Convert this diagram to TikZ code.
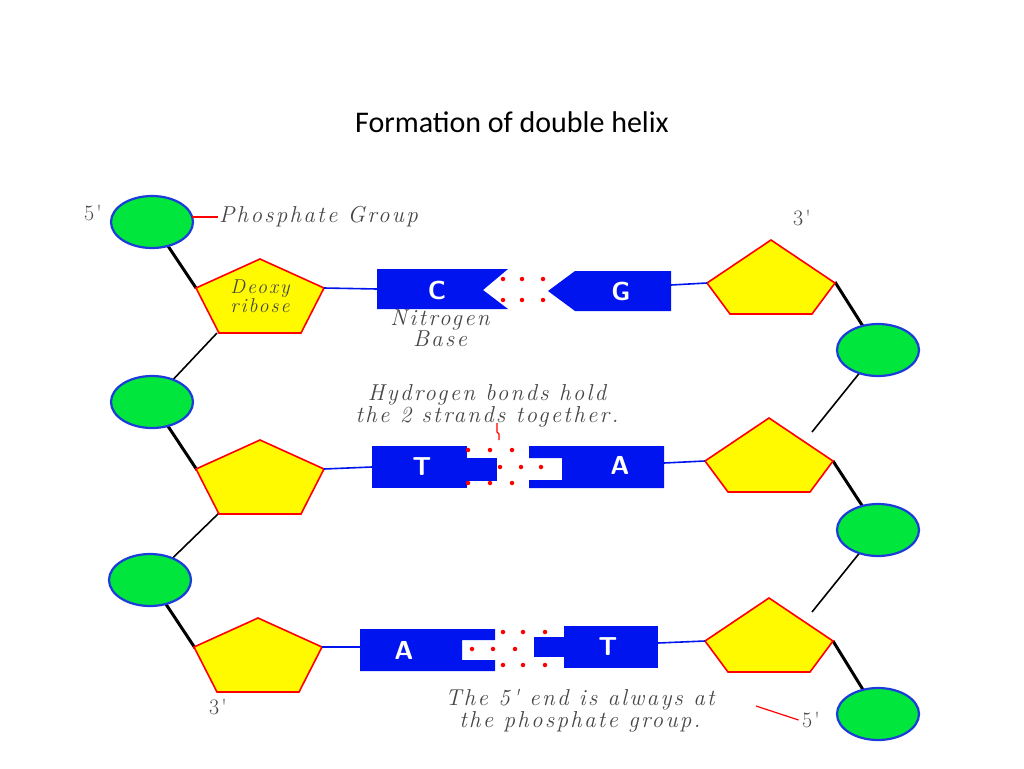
\documentclass[tikz,border=0pt]{standalone}
\usepackage{fontspec}
\setmainfont{Latin Modern Roman}
\newfontfamily\titlefont{Carlito}
\newfontfamily\handfont[LetterSpace=10]{Latin Modern Roman}
\usetikzlibrary{shapes.geometric}
\definecolor{pgreen}{RGB}{0,230,60}
\definecolor{pblue}{RGB}{30,60,220}
\definecolor{byel}{RGB}{255,250,0}
\definecolor{bblue}{RGB}{0,20,240}
\definecolor{hgray}{RGB}{70,70,70}
\tikzset{
 phos/.style={ellipse,draw=pblue,line width=2.2pt,fill=pgreen,minimum width=82,minimum height=52,inner sep=0},
 pentstyle/.style={draw=red,line width=1.6pt,fill=byel,line join=miter},
 thick bb/.style={line width=3pt,black},
 thin bb/.style={line width=1.6pt,black},
 link/.style={line width=1.6pt,bblue},
 basefill/.style={fill=bblue},
 lett/.style={text=white,font=\sffamily\bfseries\fontsize{26}{26}\selectfont},
 hand/.style={text=hgray,font=\handfont\itshape\fontsize{23}{17}\selectfont,align=center},
 dot/.style={circle,fill=red,inner sep=0,minimum size=4.5},
 redl/.style={red,line width=1.2pt},
}
\newcommand{\pentagonat}[4]{%
 \coordinate (#1-t) at (#2,#3-37);
 \coordinate (#1-r) at (#2+64,#3+#4);
 \coordinate (#1-br) at (#2+41,#3+37);
 \coordinate (#1-bl) at (#2-41,#3+37);
 \coordinate (#1-l) at (#2-64,#3+#4);
 \coordinate (#1) at (#2,#3);
 \filldraw[pentstyle] (#1-t) -- (#1-r) -- (#1-br) -- (#1-bl) -- (#1-l) -- cycle;}
\begin{document}
\begin{tikzpicture}[x=1pt,y=-1pt]
\useasboundingbox (0,0) rectangle (1024,768);
\node[font=\titlefont\fontsize{30}{30}\selectfont] (title) at (512,122) {Formation of double helix};
\coordinate (c1) at (152,222); \coordinate (c2) at (152,402); \coordinate (c3) at (150,580);
\coordinate (d1) at (878,350); \coordinate (d2) at (878,530); \coordinate (d3) at (878,714);
% backbone
\draw[thick bb] (c1) -- (196,288);
\draw[thin bb] (217,333) -- (c2);
\draw[thick bb] (c2) -- (197,470);
\draw[thin bb] (219,513) -- (c3);
\draw[thick bb] (c3) -- (195,648);
\draw[thick bb] (835,282) -- (d1);
\draw[thin bb] (d1) -- (812,432);
\draw[thick bb] (833,461) -- (d2);
\draw[thin bb] (d2) -- (812,612);
\draw[thick bb] (833,641) -- (d3);
% pentagons
\pentagonat{p1}{260}{296}{-8}
\pentagonat{p2}{260}{477}{-8}
\pentagonat{p3}{258}{655}{-8}
\pentagonat{q1}{771}{277}{6}
\pentagonat{q2}{769}{455}{6}
\pentagonat{q3}{769}{635}{6}
% phosphates
\node[phos] (n1) at (c1) {}; \node[phos] (n2) at (c2) {}; \node[phos] (n3) at (c3) {};
\node[phos] (m1) at (d1) {}; \node[phos] (m2) at (d2) {}; \node[phos] (m3) at (d3) {};
\node[hand,font=\handfont\itshape\fontsize{20}{14}\selectfont] (dr) at (260,296) {Deoxy\\ribose};
% bases
\fill[basefill] (377,269) -- (508,269) -- (483,290) -- (508,309) -- (377,309) -- cycle;
\fill[basefill] (575,271) -- (671,271) -- (671,311) -- (575,311) -- (548,291) -- cycle;
\fill[basefill] (372,446) rectangle (467,488); \fill[basefill] (466,458) rectangle (497,481);
\fill[basefill] (529,446) -- (664,446) -- (664,488) -- (529,488) -- (529,480) -- (562,480) -- (562,458) -- (529,458) -- cycle;
\fill[basefill] (360,629) -- (495,629) -- (495,640) -- (462,640) -- (462,660) -- (495,660) -- (495,671) -- (360,671) -- cycle;
\fill[basefill] (564,626) rectangle (658,668); \fill[basefill] (534,637) rectangle (565,657);
\node[lett] (bC) at (437,290) {C};
\node[lett] (bG) at (621,291) {G};
\node[lett] (bT1) at (422,467) {T};
\node[lett] (bA1) at (620,465) {A};
\node[lett] (bA2) at (404,650) {A};
\node[lett] (bT2) at (608,647) {T};
\coordinate (aC) at (377,289); \coordinate (aG) at (671,285);
\coordinate (aT1) at (372,467); \coordinate (aA1) at (664,463);
\coordinate (aA2) at (360,647); \coordinate (aT2) at (658,643);
\draw[link] (p1-r) -- (aC);
\draw[link] (q1-l) -- (aG);
\draw[link] (p2-r) -- (aT1);
\draw[link] (q2-l) -- (aA1);
\draw[link] (p3-r) -- (aA2);
\draw[link] (q3-l) -- (aT2);
% hydrogen bond dots
\foreach \x in {503,522,543} {\node[dot] at (\x,279) {}; \node[dot] at (\x,300) {};}
\foreach \x in {468,490,512} {\node[dot] at (\x,450) {}; \node[dot] at (\x,483) {};}
\foreach \x in {500,521,541} {\node[dot] at (\x,467) {};}
\foreach \x in {503,523,545} {\node[dot] at (\x,632) {}; \node[dot] at (\x,665) {};}
\foreach \x in {472,493,515} {\node[dot] at (\x,649) {};}
% labels
\node[hand,anchor=west,inner sep=1pt] (lph) at (218,217) {Phosphate Group};
\draw[redl] (n1.east) ++(-2,-5) -- (lph.west);
\node[hand] (lnb) at (440,328) {Nitrogen\\Base};
\node[hand] (lhb) at (487,406) {Hydrogen bonds hold\\the 2 strands together.};
\coordinate (hb2) at (499,440);
\draw[redl] (497,423) -- (497,432) -- (499,434) -- (hb2);
\node[hand] (l5e) at (580,711) {The 5' end is always at\\the phosphate group.};
\node[hand,font=\handfont\fontsize{22}{22}\selectfont] (f5a) at (93,213) {5'};
\node[hand,font=\handfont\fontsize{22}{22}\selectfont] (f3a) at (802,218) {3'};
\node[hand,font=\handfont\fontsize{22}{22}\selectfont] (f3b) at (218,707) {3'};
\node[hand,font=\handfont\fontsize{22}{22}\selectfont] (f5b) at (811,720) {5'};
\draw[redl] (756,706) -- (f5b.west);
\end{tikzpicture}
\end{document}
